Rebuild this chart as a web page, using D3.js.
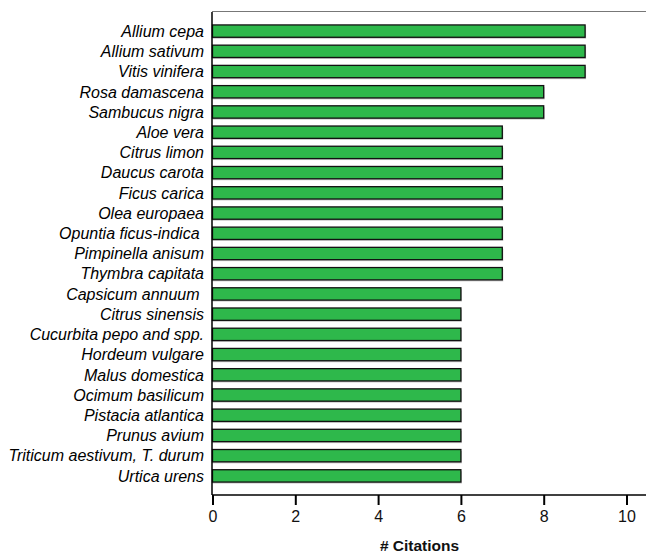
<!DOCTYPE html>
<html>
<head>
<meta charset="utf-8">
<script src="https://cdn.jsdelivr.net/npm/d3@7"></script>
<style>
  body { margin: 0; background: #fff; }
  svg { display: block; }
</style>
</head>
<body>
<script>
// Dimensions
const width = 646;
const height = 554;
const margin = { top: 12, right: 0, bottom: 59, left: 212 };
const barColor = '#2eb84b';

// Données
const species = [
  "Allium cepa", "Allium sativum", "Vitis vinifera", "Rosa damascena",
  "Sambucus nigra", "Aloe vera", "Citrus limon", "Daucus carota",
  "Ficus carica", "Olea europaea", "Opuntia ficus-indica ", "Pimpinella anisum",
  "Thymbra capitata", "Capsicum annuum ", "Citrus sinensis", "Cucurbita pepo and spp.",
  "Hordeum vulgare", "Malus domestica", "Ocimum basilicum", "Pistacia atlantica",
  "Prunus avium", "Triticum aestivum, T. durum", "Urtica urens"
];
const citations = [9, 9, 9, 8, 8, 7, 7, 7, 7, 7, 7, 7, 7, 6, 6, 6, 6, 6, 6, 6, 6, 6, 6];
const xTicks = [0, 2, 4, 6, 8, 10];

const data = species.map((name, i) => ({ name, count: citations[i] }));

const svg = d3.select('body')
  .append('svg')
  .attr('width', width)
  .attr('height', height)
  .style('font-family', 'Liberation Sans, Arial, sans-serif');

const x = d3.scaleLinear()
  .domain([0, 10])
  .range([margin.left + 0.5, 626.5]);

const y = d3.scaleBand()
  .domain(species)
  .range([margin.top, height - margin.bottom])
  .paddingInner(0.39)
  .paddingOuter(0.64);

// Bordure supérieure
svg.append('line')
  .attr('x1', margin.left)
  .attr('x2', width)
  .attr('y1', margin.top - 0.5)
  .attr('y2', margin.top - 0.5)
  .attr('stroke', '#777')
  .attr('stroke-width', 1);

// Ombre des barres
svg.append('g')
  .selectAll('rect')
  .data(data)
  .join('rect')
  .attr('x', x(0))
  .attr('y', d => y(d.name) + 1.5)
  .attr('width', d => x(d.count) - x(0) + 1)
  .attr('height', y.bandwidth())
  .attr('fill', '#c8c8c8');

// Barres
svg.append('g')
  .selectAll('rect')
  .data(data)
  .join('rect')
  .attr('x', x(0))
  .attr('y', d => y(d.name))
  .attr('width', d => x(d.count) - x(0))
  .attr('height', y.bandwidth())
  .attr('fill', barColor)
  .attr('stroke', '#111')
  .attr('stroke-width', 1.3);

// Axe horizontal
const xAxis = svg.append('g')
  .attr('transform', `translate(0, ${height - margin.bottom})`)
  .call(d3.axisBottom(x).tickValues(xTicks).tickSize(10).tickSizeOuter(0).tickPadding(6));
xAxis.select('.domain')
  .attr('stroke', '#000')
  .attr('stroke-width', 1.5)
  .attr('d', `M${margin.left},0H${width}`);
xAxis.selectAll('.tick line').attr('stroke', '#000').attr('stroke-width', 2);
xAxis.selectAll('.tick text')
  .attr('font-size', 16)
  .attr('fill', '#111')
  .attr('font-family', 'Liberation Sans, Arial, sans-serif');

// Axe vertical
const yAxis = svg.append('g')
  .attr('transform', `translate(${margin.left}, 0)`)
  .call(d3.axisLeft(y).tickSize(0).tickPadding(8));
yAxis.select('.domain')
  .attr('stroke', '#000')
  .attr('stroke-width', 1.5)
  .attr('d', `M0,${margin.top}V${height - margin.bottom}`);
yAxis.selectAll('.tick text')
  .attr('font-size', 16)
  .attr('font-style', 'italic')
  .attr('fill', '#000')
  .attr('dy', '0.36em')
  .attr('font-family', 'Liberation Sans, Arial, sans-serif')
  .style('white-space', 'pre');

// Titre de l'axe
svg.append('text')
  .attr('x', x(5))
  .attr('y', 551)
  .attr('text-anchor', 'middle')
  .attr('font-size', 15.5)
  .attr('font-weight', 'bold')
  .attr('fill', '#111')
  .text('# Citations');
</script>
</body>
</html>
